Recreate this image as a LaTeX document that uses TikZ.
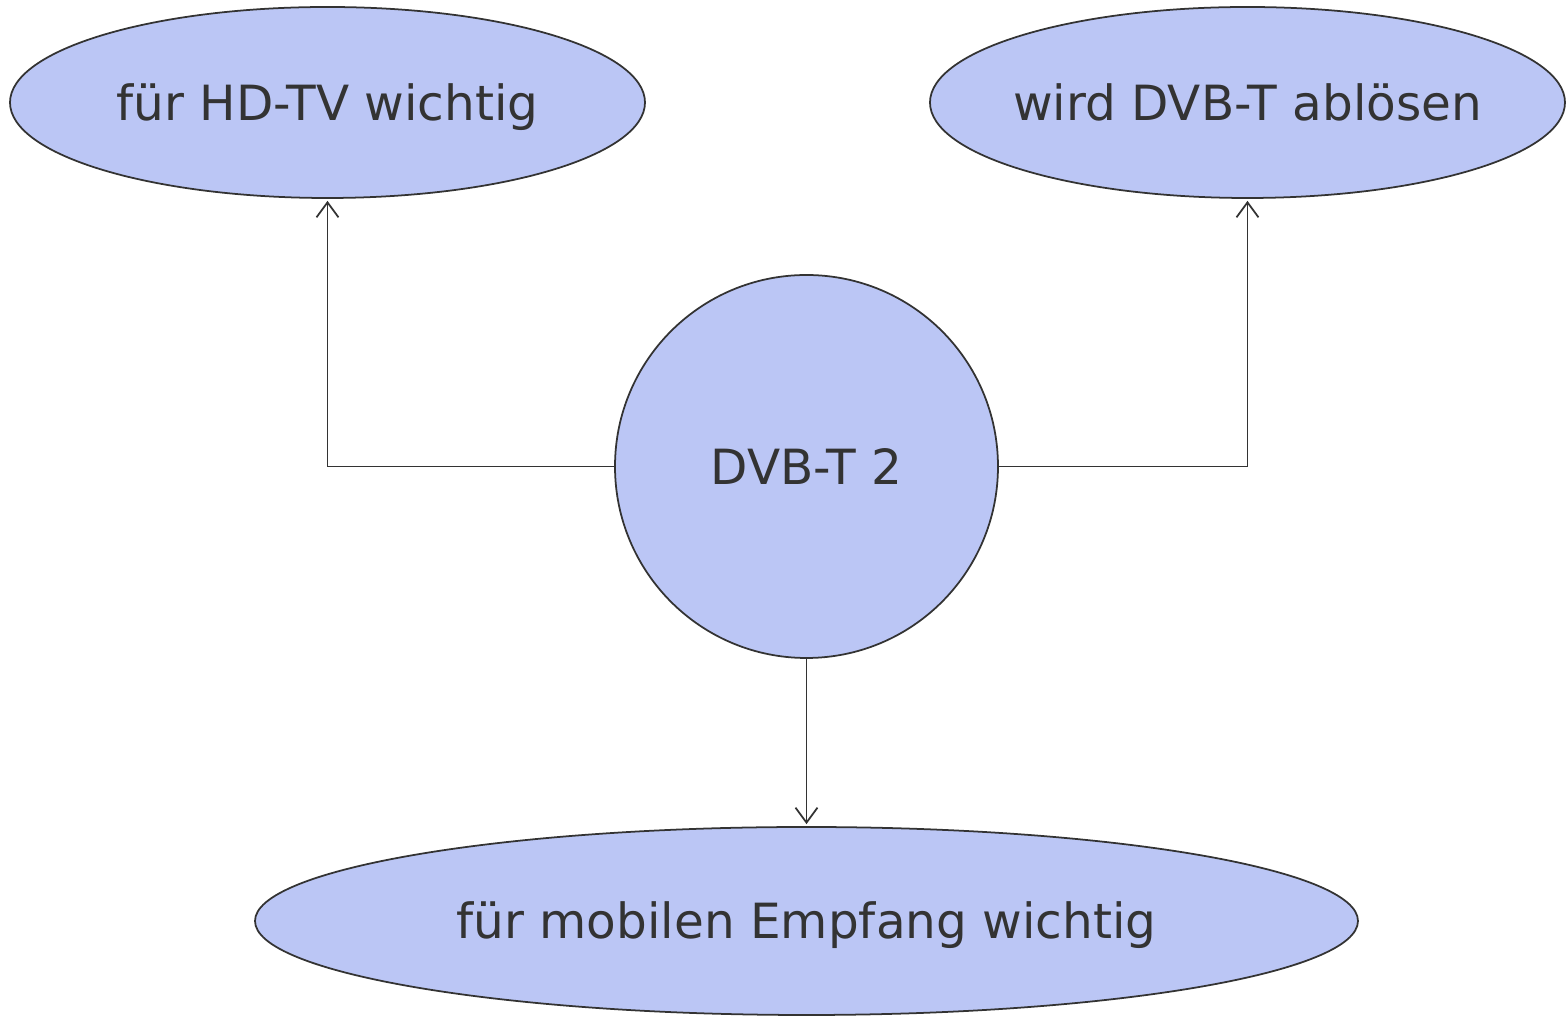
\documentclass[tikz,border=0pt]{standalone}
\usepackage{fontspec}
\setmainfont{DejaVu Sans}
\usepackage{xcolor}
\usetikzlibrary{shapes.geometric}
\usetikzlibrary{arrows.meta}
\definecolor{bubblefill}{HTML}{BBC6F5}
\definecolor{inkgray}{HTML}{333333}

\tikzset{
    topic/.style={ellipse, draw=inkgray, fill=bubblefill, line width=0.5pt,
        inner xsep=-2cm, inner ysep=0pt, text height=10pt, text depth=0pt,
        text=inkgray, font=\fontsize{13.8}{16}\selectfont},
    hub/.style={circle, draw=inkgray, fill=bubblefill, line width=0.5pt,
        inner sep=0pt, minimum size=3.83cm, text height=10pt, text depth=0pt,
        text=inkgray, font=\fontsize{13.8}{16}\selectfont},
    link/.style={draw=inkgray, line width=0.5pt, -{Straight Barb[length=1.5mm, width=2.2mm]}}
}

\begin{document}
\begin{tikzpicture}

    \useasboundingbox (0,0) rectangle (15.66,-10.17);

    % Center
    \node[hub] (dvb) at (8.065,-4.665) {DVB-T 2};

    % Ellipses
    \node[topic, minimum width=6.35cm, minimum height=1.91cm] (hd) at (3.275,-1.025) {für HD-TV wichtig};
    \node[topic, minimum width=6.35cm, minimum height=1.91cm] (abl) at (12.475,-1.025) {wird DVB-T ablösen};
    \node[topic, minimum width=11.03cm, minimum height=1.88cm] (mob) at (8.065,-9.21) {für mobilen Empfang wichtig};

    % Arrows
    \draw[link] (dvb.west) -| ([yshift=-0.02cm]hd.south);
    \draw[link] (dvb.east) -| ([yshift=-0.02cm]abl.south);
    \draw[link] (dvb.south) -- ([yshift=0.02cm]mob.north);

\end{tikzpicture}
\end{document}
